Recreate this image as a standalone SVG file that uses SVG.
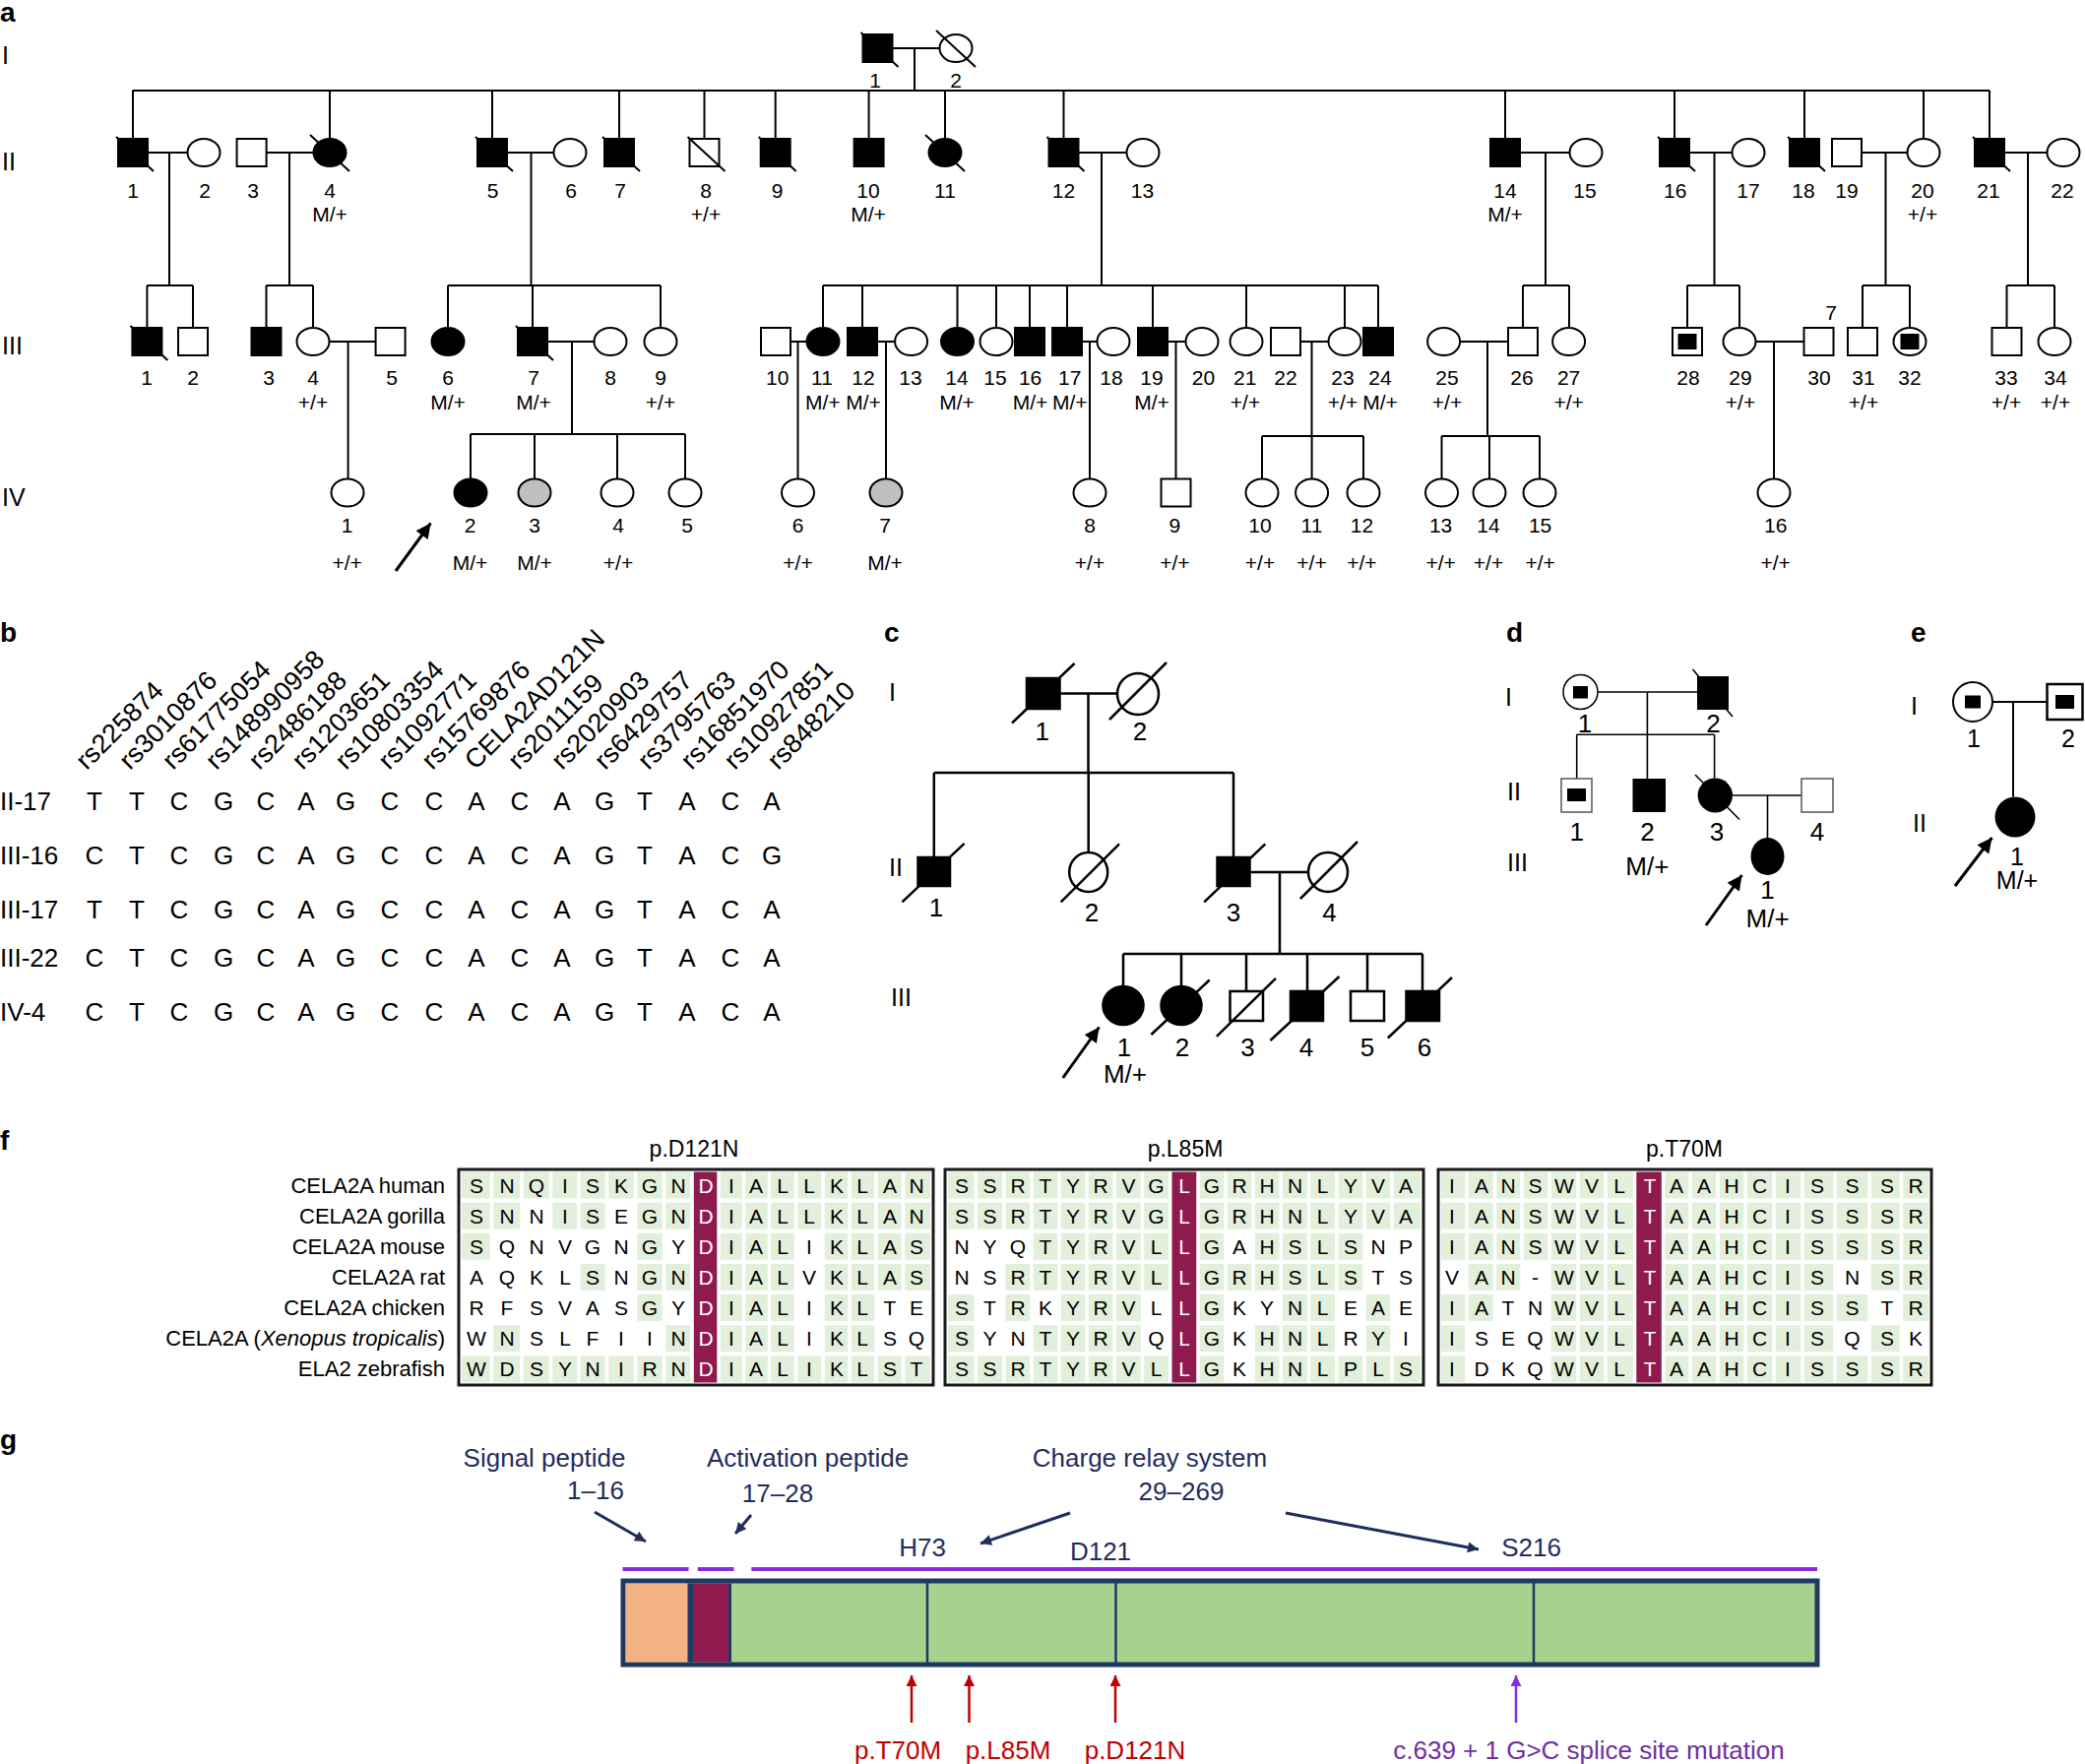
<svg xmlns="http://www.w3.org/2000/svg" xmlns:xlink="http://www.w3.org/1999/xlink" width="2118" height="1792" viewBox="0 0 2118 1792">
<style>
text{font-family:"Liberation Sans",Arial,Helvetica,sans-serif;fill:#000}
.pl{font-weight:bold;font-size:28px}
.gl{font-size:25px}
.n{font-size:21px;text-anchor:middle}
.nc{font-size:26px;text-anchor:middle}
.ne{font-size:25px;text-anchor:middle}
.b{font-size:26px}
.bc{font-size:26px;text-anchor:middle}
.hd{font-size:27px}
.sp{font-size:22px;text-anchor:end}
.aa{font-size:21px;text-anchor:middle}
.tt{font-size:23px;text-anchor:middle}
.gt{font-size:26px;text-anchor:middle;fill:#1f2d5c}
.rt{font-size:26px;text-anchor:middle;fill:#c00000}
.pt{font-size:26px;text-anchor:middle;fill:#7030a0}
.ln{fill:none;stroke:#000;stroke-width:2}
.lc{fill:none;stroke:#000;stroke-width:2.5}
.ld{fill:none;stroke:#000;stroke-width:1.6}
.o{fill:#fff;stroke:#000;stroke-width:2}
.f{fill:#000;stroke:#000;stroke-width:2}
.gy{fill:#bfbfbf;stroke:#000;stroke-width:2}
.oc{fill:#fff;stroke:#000;stroke-width:2.5}
.fc{fill:#000;stroke:#000;stroke-width:2.5}
.gc{fill:#e2efda}
.mr{fill:#8e1a4e}
.bx{fill:none;stroke:#1a1a1a;stroke-width:3}
.ar{fill:none;stroke:#000;stroke-width:3}
</style>
<defs>
<rect id="sq" x="-15" y="-14" width="30" height="28"/>
<ellipse id="ci" rx="16.5" ry="14"/>
<path id="sl" d="M-17-16L21 19"/>
<path id="slc" d="M-20-18L20 19"/>
<rect id="in" x="-8.5" y="-7" width="17" height="14"/>
<marker id="ak" viewBox="0 0 10 10" refX="10" refY="5" markerWidth="18" markerHeight="15" markerUnits="userSpaceOnUse" orient="auto"><path d="M0 0L10 5L0 10z" fill="#000"/></marker>
<marker id="an" viewBox="0 0 10 10" refX="10" refY="5" markerWidth="13" markerHeight="11" markerUnits="userSpaceOnUse" orient="auto"><path d="M0 0L10 5L0 10z" fill="#1f2d5c"/></marker>
<marker id="ar" viewBox="0 0 10 10" refX="10" refY="5" markerWidth="15" markerHeight="11" markerUnits="userSpaceOnUse" orient="auto"><path d="M0 0L10 5L0 10z" fill="#c00000"/></marker>
<marker id="ap" viewBox="0 0 10 10" refX="10" refY="5" markerWidth="15" markerHeight="11" markerUnits="userSpaceOnUse" orient="auto"><path d="M0 0L10 5L0 10z" fill="#8a2be2"/></marker>
</defs>
<rect width="2118" height="1792" fill="#fff"/>

<!-- panel letters -->
<g id="panel-letters">
<text class="pl" x="0" y="22">a</text>
<text class="pl" x="0" y="652">b</text>
<text class="pl" x="898" y="652">c</text>
<text class="pl" x="1530" y="652">d</text>
<text class="pl" x="1941" y="652">e</text>
<text class="pl" x="0" y="1168">f</text>
<text class="pl" x="0" y="1472">g</text>
</g>

<!-- ============ PANEL A ============ -->
<g id="a-generations">
<text class="gl" x="2" y="65">I</text>
<text class="gl" x="2" y="173">II</text>
<text class="gl" x="2" y="360">III</text>
<text class="gl" x="2" y="514">IV</text>
</g>

<g id="connectors">
<path class="ln" d="M906 49H954.5M929 49V92M134.5 92H2021
M135 92V141M335 92V141M500 92V141M629 92V141M715.5 92V141M787.7 92V141M882.6 92V141M960 92V141M1080.5 92V141M1529 92V141M1701 92V141M1833 92V141M1954 92V141M2021 92V141
M150 155H190.5M172 155V290M149.4 290H196M149.4 290V333M196 290V333
M270.6 155H318.5M294 155V290M270.5 290H318M270.5 290V333M318 290V333
M515 155H562.5M539.5 155V290M455 290H671M455 290V333M541 290V333M671 290V333
M1095.5 155H1144.5M1119 155V290M836 290H1400M836 290V333M876 290V333M972.5 290V333M1012 290V333M1046 290V333M1084 290V333M1171 290V333M1266 290V333M1366 290V333M1400 290V333
M1544 155H1594.5M1570 155V290M1547 290H1594M1547 290V333M1594 290V333
M1716 155H1759.5M1741.5 155V290M1714 290H1767M1714 290V333M1767 290V333
M1891 155H1937.5M1915.5 155V290M1892 290H1940M1892 290V333M1940 290V333
M2036 155H2079.5M2060 155V290M2038.5 290H2087M2038.5 290V333M2087 290V333
M334.5 347H381.6M353.6 347V486.5
M556 347H603.5M581 347V441M478 441H696M478 441V486.5M543 441V486.5M627 441V486.5M696 441V486.5
M803 347H819.5M810.5 347V486.5
M891 347H909M900 347V486.5
M1099 347H1114.5M1107 347V486.5
M1186 347H1204.5M1194.5 347V486.5
M1321 347H1349.5M1332.5 347V443M1282 443H1385M1282 443V486.5M1332.6 443V486.5M1385 443V486.5
M1483 347H1532M1511 347V443M1464.5 443H1564M1464.5 443V486.5M1513 443V486.5M1564 443V486.5
M1783.5 347H1832.5M1802 347V486.5"/>
<path class="lc" d="M1076.5 704.5H1135M1105.5 704.5V785M948.8 785H1253M948.8 785V871M1105.7 785V866M1253 785V871
M1269.5 886H1329M1300 886V969M1141 969H1445M1141 969V1002M1200 969V1002M1266 969V1007M1328 969V1007M1389 969V1007M1445 969V1007"/>
<path class="ld" d="M1623 703H1724M1673.4 703V791M1601.7 746.3H1741.6M1601.7 746.3V791M1741.6 746.3V790.5M1760 808H1830M1795.5 808V851"/>
<path class="ln" d="M2024 713H2079.5M2045 713V809.5"/>
<path class="ar" d="M402 580L437.5 531.5" marker-end="url(#ak)"/>
<path class="ar" d="M1079.7 1095L1116.5 1043.5" marker-end="url(#ak)"/>
<path class="ar" d="M1733 940L1769.5 889" marker-end="url(#ak)"/>
<path class="ar" d="M1986 900L2023.5 851" marker-end="url(#ak)"/>
<path fill="none" stroke="#1f2d5c" stroke-width="3" marker-end="url(#an)" d="M604 1536L656 1566"/>
<path fill="none" stroke="#1f2d5c" stroke-width="3" marker-end="url(#an)" d="M763 1539L747 1558"/>
<path fill="none" stroke="#1f2d5c" stroke-width="3" marker-end="url(#an)" d="M1087 1537L996 1568"/>
<path fill="none" stroke="#1f2d5c" stroke-width="3" marker-end="url(#an)" d="M1306 1537L1502 1574"/>
<path fill="none" stroke="#c00000" stroke-width="2.5" marker-end="url(#ar)" d="M926 1750V1702"/>
<path fill="none" stroke="#c00000" stroke-width="2.5" marker-end="url(#ar)" d="M984.5 1750V1702"/>
<path fill="none" stroke="#c00000" stroke-width="2.5" marker-end="url(#ar)" d="M1133 1750V1702"/>
<path fill="none" stroke="#8a2be2" stroke-width="2.5" marker-end="url(#ap)" d="M1540 1750V1702"/>
</g>

<!-- Gen I -->
<g id="a-I-1"><use href="#sq" x="891.5" y="49" class="f"/><use href="#sl" x="891.5" y="49" class="ln"/><text class="n" x="889" y="89">1</text></g>
<g id="a-I-2"><use href="#ci" x="971" y="49" class="o"/><use href="#slc" x="971" y="49" class="ln"/><text class="n" x="971" y="89">2</text></g>

<!-- Gen II -->
<g id="a-II-1"><use href="#sq" x="135" y="155" class="f"/><use href="#sl" x="135" y="155" class="ln"/><text class="n" x="135" y="201">1</text></g>
<g id="a-II-2"><use href="#ci" x="207" y="155" class="o"/><text class="n" x="208" y="201">2</text></g>
<g id="a-II-3"><use href="#sq" x="255.6" y="155" class="o"/><text class="n" x="257" y="201">3</text></g>
<g id="a-II-4"><use href="#ci" x="335" y="155" class="f"/><use href="#slc" x="335" y="155" class="ln"/><text class="n" x="335" y="201">4</text><text class="n" x="335" y="225">M/+</text></g>
<g id="a-II-5"><use href="#sq" x="500" y="155" class="f"/><use href="#sl" x="500" y="155" class="ln"/><text class="n" x="500.5" y="201">5</text></g>
<g id="a-II-6"><use href="#ci" x="579" y="155" class="o"/><text class="n" x="580" y="201">6</text></g>
<g id="a-II-7"><use href="#sq" x="629" y="155" class="f"/><use href="#sl" x="629" y="155" class="ln"/><text class="n" x="630" y="201">7</text></g>
<g id="a-II-8"><use href="#sq" x="715.5" y="155" class="o"/><use href="#sl" x="715.5" y="155" class="ln"/><text class="n" x="717" y="201">8</text><text class="n" x="717" y="225">+/+</text></g>
<g id="a-II-9"><use href="#sq" x="787.7" y="155" class="f"/><use href="#sl" x="787.7" y="155" class="ln"/><text class="n" x="789.7" y="201">9</text></g>
<g id="a-II-10"><use href="#sq" x="882.6" y="155" class="f"/><text class="n" x="882" y="201">10</text><text class="n" x="882" y="225">M/+</text></g>
<g id="a-II-11"><use href="#ci" x="960" y="155" class="f"/><use href="#slc" x="960" y="155" class="ln"/><text class="n" x="960" y="201">11</text></g>
<g id="a-II-12"><use href="#sq" x="1080.5" y="155" class="f"/><use href="#sl" x="1080.5" y="155" class="ln"/><text class="n" x="1080.5" y="201">12</text></g>
<g id="a-II-13"><use href="#ci" x="1161" y="155" class="o"/><text class="n" x="1160.5" y="201">13</text></g>
<g id="a-II-14"><use href="#sq" x="1529" y="155" class="f"/><text class="n" x="1529" y="201">14</text><text class="n" x="1529" y="225">M/+</text></g>
<g id="a-II-15"><use href="#ci" x="1611" y="155" class="o"/><text class="n" x="1610" y="201">15</text></g>
<g id="a-II-16"><use href="#sq" x="1701" y="155" class="f"/><use href="#sl" x="1701" y="155" class="ln"/><text class="n" x="1701.8" y="201">16</text></g>
<g id="a-II-17"><use href="#ci" x="1776" y="155" class="o"/><text class="n" x="1776" y="201">17</text></g>
<g id="a-II-18"><use href="#sq" x="1833" y="155" class="f"/><use href="#sl" x="1833" y="155" class="ln"/><text class="n" x="1832" y="201">18</text></g>
<g id="a-II-19"><use href="#sq" x="1876" y="155" class="o"/><text class="n" x="1876" y="201">19</text></g>
<g id="a-II-20"><use href="#ci" x="1954" y="155" class="o"/><text class="n" x="1953" y="201">20</text><text class="n" x="1953" y="225">+/+</text></g>
<g id="a-II-21"><use href="#sq" x="2021" y="155" class="f"/><use href="#sl" x="2021" y="155" class="ln"/><text class="n" x="2020" y="201">21</text></g>
<g id="a-II-22"><use href="#ci" x="2096" y="155" class="o"/><text class="n" x="2095" y="201">22</text></g>

<!-- Gen III -->
<g id="a-III-1"><use href="#sq" x="149.4" y="347" class="f"/><use href="#sl" x="149.4" y="347" class="ln"/><text class="n" x="149" y="391">1</text></g>
<g id="a-III-2"><use href="#sq" x="196" y="347" class="o"/><text class="n" x="196" y="391">2</text></g>
<g id="a-III-3"><use href="#sq" x="270.5" y="347" class="f"/><text class="n" x="273" y="391">3</text></g>
<g id="a-III-4"><use href="#ci" x="318" y="347" class="o"/><text class="n" x="318" y="391">4</text><text class="n" x="318" y="416">+/+</text></g>
<g id="a-III-5"><use href="#sq" x="396.6" y="347" class="o"/><text class="n" x="398" y="391">5</text></g>
<g id="a-III-6"><use href="#ci" x="455" y="347" class="f"/><text class="n" x="455" y="391">6</text><text class="n" x="455" y="416">M/+</text></g>
<g id="a-III-7"><use href="#sq" x="541" y="347" class="f"/><use href="#sl" x="541" y="347" class="ln"/><text class="n" x="542" y="391">7</text><text class="n" x="542" y="416">M/+</text></g>
<g id="a-III-8"><use href="#ci" x="620" y="347" class="o"/><text class="n" x="620" y="391">8</text></g>
<g id="a-III-9"><use href="#ci" x="671" y="347" class="o"/><text class="n" x="671" y="391">9</text><text class="n" x="671" y="416">+/+</text></g>
<g id="a-III-10"><use href="#sq" x="788" y="347" class="o"/><text class="n" x="789.7" y="391">10</text></g>
<g id="a-III-11"><use href="#ci" x="836" y="347" class="f"/><text class="n" x="835" y="391">11</text><text class="n" x="835.7" y="416">M/+</text></g>
<g id="a-III-12"><use href="#sq" x="876" y="347" class="f"/><text class="n" x="877" y="391">12</text><text class="n" x="877" y="416">M/+</text></g>
<g id="a-III-13"><use href="#ci" x="925.6" y="347" class="o"/><text class="n" x="925" y="391">13</text></g>
<g id="a-III-14"><use href="#ci" x="972.5" y="347" class="f"/><text class="n" x="972" y="391">14</text><text class="n" x="972" y="416">M/+</text></g>
<g id="a-III-15"><use href="#ci" x="1012" y="347" class="o"/><text class="n" x="1011" y="391">15</text></g>
<g id="a-III-16"><use href="#sq" x="1046" y="347" class="f"/><text class="n" x="1046.6" y="391">16</text><text class="n" x="1046.6" y="416">M/+</text></g>
<g id="a-III-17"><use href="#sq" x="1084" y="347" class="f"/><text class="n" x="1086.8" y="391">17</text><text class="n" x="1086.8" y="416">M/+</text></g>
<g id="a-III-18"><use href="#ci" x="1131" y="347" class="o"/><text class="n" x="1129" y="391">18</text></g>
<g id="a-III-19"><use href="#sq" x="1171" y="347" class="f"/><text class="n" x="1170" y="391">19</text><text class="n" x="1170" y="416">M/+</text></g>
<g id="a-III-20"><use href="#ci" x="1221" y="347" class="o"/><text class="n" x="1222.5" y="391">20</text></g>
<g id="a-III-21"><use href="#ci" x="1266" y="347" class="o"/><text class="n" x="1264.7" y="391">21</text><text class="n" x="1265" y="416">+/+</text></g>
<g id="a-III-22"><use href="#sq" x="1306" y="347" class="o"/><text class="n" x="1306" y="391">22</text></g>
<g id="a-III-23"><use href="#ci" x="1366" y="347" class="o"/><text class="n" x="1364" y="391">23</text><text class="n" x="1364" y="416">+/+</text></g>
<g id="a-III-24"><use href="#sq" x="1400" y="347" class="f"/><text class="n" x="1402" y="391">24</text><text class="n" x="1402" y="416">M/+</text></g>
<g id="a-III-25"><use href="#ci" x="1466.6" y="347" class="o"/><text class="n" x="1470" y="391">25</text><text class="n" x="1470" y="416">+/+</text></g>
<g id="a-III-26"><use href="#sq" x="1547" y="347" class="o"/><text class="n" x="1546" y="391">26</text></g>
<g id="a-III-27"><use href="#ci" x="1593.6" y="347" class="o"/><text class="n" x="1593.6" y="391">27</text><text class="n" x="1593.6" y="416">+/+</text></g>
<g id="a-III-28"><use href="#sq" x="1714" y="347" class="o"/><use href="#in" x="1714" y="347" class="f"/><text class="n" x="1715" y="391">28</text></g>
<g id="a-III-29"><use href="#ci" x="1767" y="347" class="o"/><text class="n" x="1768" y="391">29</text><text class="n" x="1768" y="416">+/+</text></g>
<g id="a-III-30"><use href="#sq" x="1847.5" y="347" class="o"/><text class="n" x="1860" y="325">7</text><text class="n" x="1848" y="391">30</text></g>
<g id="a-III-31"><use href="#sq" x="1892" y="347" class="o"/><text class="n" x="1893" y="391">31</text><text class="n" x="1893" y="416">+/+</text></g>
<g id="a-III-32"><use href="#ci" x="1940" y="347" class="o"/><use href="#in" x="1940" y="347" class="f"/><text class="n" x="1940" y="391">32</text></g>
<g id="a-III-33"><use href="#sq" x="2038.5" y="347" class="o"/><text class="n" x="2038" y="391">33</text><text class="n" x="2038" y="416">+/+</text></g>
<g id="a-III-34"><use href="#ci" x="2087" y="347" class="o"/><text class="n" x="2088" y="391">34</text><text class="n" x="2088" y="416">+/+</text></g>

<!-- Gen IV -->
<g id="a-IV-1"><use href="#ci" x="353" y="500.5" class="o"/><text class="n" x="352.7" y="541">1</text><text class="n" x="352.7" y="579">+/+</text></g>
<g id="a-IV-2"><use href="#ci" x="478" y="500.5" class="f"/><text class="n" x="477.6" y="541">2</text><text class="n" x="477.6" y="579">M/+</text></g>
<g id="a-IV-3"><use href="#ci" x="543" y="500.5" class="gy"/><text class="n" x="543" y="541">3</text><text class="n" x="543" y="579">M/+</text></g>
<g id="a-IV-4"><use href="#ci" x="627" y="500.5" class="o"/><text class="n" x="628" y="541">4</text><text class="n" x="628" y="579">+/+</text></g>
<g id="a-IV-5"><use href="#ci" x="696" y="500.5" class="o"/><text class="n" x="698" y="541">5</text></g>
<g id="a-IV-6"><use href="#ci" x="810.5" y="500.5" class="o"/><text class="n" x="810.5" y="541">6</text><text class="n" x="810.5" y="579">+/+</text></g>
<g id="a-IV-7"><use href="#ci" x="900" y="500.5" class="gy"/><text class="n" x="899" y="541">7</text><text class="n" x="899" y="579">M/+</text></g>
<g id="a-IV-8"><use href="#ci" x="1107" y="500.5" class="o"/><text class="n" x="1107" y="541">8</text><text class="n" x="1107" y="579">+/+</text></g>
<g id="a-IV-9"><use href="#sq" x="1194.5" y="500.5" class="o"/><text class="n" x="1193.4" y="541">9</text><text class="n" x="1193.4" y="579">+/+</text></g>
<g id="a-IV-10"><use href="#ci" x="1282" y="500.5" class="o"/><text class="n" x="1280" y="541">10</text><text class="n" x="1280" y="579">+/+</text></g>
<g id="a-IV-11"><use href="#ci" x="1332.6" y="500.5" class="o"/><text class="n" x="1332.5" y="541">11</text><text class="n" x="1332.5" y="579">+/+</text></g>
<g id="a-IV-12"><use href="#ci" x="1385" y="500.5" class="o"/><text class="n" x="1383.4" y="541">12</text><text class="n" x="1383.4" y="579">+/+</text></g>
<g id="a-IV-13"><use href="#ci" x="1464.5" y="500.5" class="o"/><text class="n" x="1463.6" y="541">13</text><text class="n" x="1463.6" y="579">+/+</text></g>
<g id="a-IV-14"><use href="#ci" x="1513" y="500.5" class="o"/><text class="n" x="1512" y="541">14</text><text class="n" x="1512" y="579">+/+</text></g>
<g id="a-IV-15"><use href="#ci" x="1564" y="500.5" class="o"/><text class="n" x="1564.6" y="541">15</text><text class="n" x="1564.6" y="579">+/+</text></g>
<g id="a-IV-16"><use href="#ci" x="1802" y="500.5" class="o"/><text class="n" x="1803.7" y="541">16</text><text class="n" x="1803.7" y="579">+/+</text></g>

<!-- ============ PANEL B ============ -->
<g id="b-headers">
<text class="hd" transform="translate(88 783) rotate(-45)">rs225874</text>
<text class="hd" transform="translate(131.9 783) rotate(-45)">rs3010876</text>
<text class="hd" transform="translate(175.8 783) rotate(-45)">rs61775054</text>
<text class="hd" transform="translate(219.7 783) rotate(-45)">rs148990958</text>
<text class="hd" transform="translate(263.6 783) rotate(-45)">rs2486188</text>
<text class="hd" transform="translate(307.5 783) rotate(-45)">rs1203651</text>
<text class="hd" transform="translate(351.4 783) rotate(-45)">rs10803354</text>
<text class="hd" transform="translate(395.3 783) rotate(-45)">rs1092771</text>
<text class="hd" transform="translate(439.2 783) rotate(-45)">rs15769876</text>
<text class="hd" transform="translate(483.1 783) rotate(-45)">CELA2AD121N</text>
<text class="hd" transform="translate(527 783) rotate(-45)">rs2011159</text>
<text class="hd" transform="translate(570.9 783) rotate(-45)">rs2020903</text>
<text class="hd" transform="translate(614.8 783) rotate(-45)">rs6429757</text>
<text class="hd" transform="translate(658.7 783) rotate(-45)">rs3795763</text>
<text class="hd" transform="translate(702.6 783) rotate(-45)">rs16851970</text>
<text class="hd" transform="translate(746.5 783) rotate(-45)">rs10927851</text>
<text class="hd" transform="translate(790.4 783) rotate(-45)">rs848210</text>
</g>
<g id="b-rows">
<text class="b" x="0" y="823">II-17</text>
<text class="b" x="0" y="878">III-16</text>
<text class="b" x="0" y="933">III-17</text>
<text class="b" x="0" y="982">III-22</text>
<text class="b" x="0" y="1037">IV-4</text>
<text class="bc" y="823" x="96 117.5 139 160.5 182 204.5 227 248.5 270 290.5 311 331 351 373.5 396 418.5 441 462.5 484 506 528 549.5 571 592.5 614 634.5 655 676.5 698 720 742 763 784">T T C G C A G C C A C A G T A C A</text>
<text class="bc" y="878" x="96 117.5 139 160.5 182 204.5 227 248.5 270 290.5 311 331 351 373.5 396 418.5 441 462.5 484 506 528 549.5 571 592.5 614 634.5 655 676.5 698 720 742 763 784">C T C G C A G C C A C A G T A C G</text>
<text class="bc" y="933" x="96 117.5 139 160.5 182 204.5 227 248.5 270 290.5 311 331 351 373.5 396 418.5 441 462.5 484 506 528 549.5 571 592.5 614 634.5 655 676.5 698 720 742 763 784">T T C G C A G C C A C A G T A C A</text>
<text class="bc" y="982" x="96 117.5 139 160.5 182 204.5 227 248.5 270 290.5 311 331 351 373.5 396 418.5 441 462.5 484 506 528 549.5 571 592.5 614 634.5 655 676.5 698 720 742 763 784">C T C G C A G C C A C A G T A C A</text>
<text class="bc" y="1037" x="96 117.5 139 160.5 182 204.5 227 248.5 270 290.5 311 331 351 373.5 396 418.5 441 462.5 484 506 528 549.5 571 592.5 614 634.5 655 676.5 698 720 742 763 784">C T C G C A G C C A C A G T A C A</text>
</g>

<!-- ============ PANEL C ============ -->
<g id="c-generations">
<text class="gl" x="903" y="712">I</text>
<text class="gl" x="903" y="890">II</text>
<text class="gl" x="905" y="1022">III</text>
</g>
<g id="c-I-1"><rect x="1043" y="689" width="33.5" height="31" class="fc"/><path class="lc" d="M1028 734.5L1091.5 674"/><text class="nc" x="1058.7" y="752">1</text></g>
<g id="c-I-2"><circle cx="1156" cy="705" r="21" class="oc"/><path class="lc" d="M1127 731L1185 673"/><text class="nc" x="1158" y="752">2</text></g>
<g id="c-II-1"><rect x="932.5" y="871" width="32.5" height="29" class="fc"/><path class="lc" d="M916.4 916.4L979.6 856.8"/><text class="nc" x="951" y="931">1</text></g>
<g id="c-II-2"><ellipse cx="1105.7" cy="886" rx="19.5" ry="20" class="oc"/><path class="lc" d="M1077.7 916.4L1137 857.4"/><text class="nc" x="1109" y="936">2</text></g>
<g id="c-II-3"><rect x="1236.5" y="871" width="33" height="29" class="fc"/><path class="lc" d="M1223.2 916.4L1285.3 857.4"/><text class="nc" x="1253" y="936">3</text></g>
<g id="c-II-4"><circle cx="1349" cy="886" r="20" class="oc"/><path class="lc" d="M1320.9 913L1379 855"/><text class="nc" x="1350.5" y="936">4</text></g>
<g id="c-III-1"><ellipse cx="1141" cy="1021.5" rx="20.5" ry="19.5" class="fc"/><text class="nc" x="1142" y="1073">1</text><text class="nc" x="1143" y="1100">M/+</text></g>
<g id="c-III-2"><ellipse cx="1200" cy="1021.5" rx="20.5" ry="19.5" class="fc"/><path class="lc" d="M1169.4 1051L1228.7 995.5"/><text class="nc" x="1201" y="1073">2</text></g>
<g id="c-III-3"><rect x="1249.5" y="1007" width="33.5" height="30" class="oc"/><path class="lc" d="M1235.9 1052.8L1296 993.8"/><text class="nc" x="1267.5" y="1073">3</text></g>
<g id="c-III-4"><rect x="1311" y="1007" width="33" height="30" class="fc"/><path class="lc" d="M1290.4 1057L1360.4 992"/><text class="nc" x="1327" y="1073">4</text></g>
<g id="c-III-5"><rect x="1372" y="1007" width="34" height="30" class="oc"/><text class="nc" x="1389" y="1073">5</text></g>
<g id="c-III-6"><rect x="1428.5" y="1007" width="33.5" height="30" class="fc"/><path class="lc" d="M1409.8 1054.5L1475 993"/><text class="nc" x="1447" y="1073">6</text></g>

<!-- ============ PANEL D ============ -->
<g id="d-generations">
<text class="gl" x="1529" y="717">I</text>
<text class="gl" x="1531" y="813">II</text>
<text class="gl" x="1531" y="885">III</text>
</g>
<g id="d-I-1"><circle cx="1605.5" cy="703" r="17.5" fill="#fff" stroke="#000" stroke-width="1.5"/><rect x="1598" y="697" width="15" height="12.5"/><text class="nc" x="1610" y="744">1</text></g>
<g id="d-I-2"><rect x="1724" y="687" width="32" height="34"/><path class="ld" d="M1719.5 680L1760 728"/><text class="nc" x="1740.4" y="744">2</text></g>
<g id="d-II-1"><rect x="1586" y="791" width="31" height="34" fill="#fff" stroke="#555" stroke-width="1.5"/><rect x="1592" y="801" width="19" height="13"/><text class="nc" x="1601.7" y="854">1</text></g>
<g id="d-II-2"><rect x="1658.5" y="791" width="33.5" height="34"/><text class="nc" x="1673.4" y="854">2</text><text class="nc" x="1673.4" y="889">M/+</text></g>
<g id="d-II-3"><ellipse cx="1742.3" cy="808" rx="17.7" ry="17.5"/><path class="ld" d="M1722 787L1767 832.5"/><text class="nc" x="1744" y="854">3</text></g>
<g id="d-II-4"><rect x="1830" y="791" width="32" height="34" fill="#fff" stroke="#555" stroke-width="1.5"/><text class="nc" x="1846" y="854">4</text></g>
<g id="d-III-1"><ellipse cx="1795.5" cy="870" rx="17" ry="19"/><text class="nc" x="1795.6" y="913">1</text><text class="nc" x="1795.6" y="942">M/+</text></g>

<!-- ============ PANEL E ============ -->
<g id="e-generations">
<text class="gl" x="1941" y="726">I</text>
<text class="gl" x="1943" y="845">II</text>
</g>
<g id="e-I-1"><circle cx="2004" cy="713" r="20" fill="#fff" stroke="#000" stroke-width="2"/><rect x="1996" y="706.5" width="16" height="13"/><text class="ne" x="2005" y="759">1</text></g>
<g id="e-I-2"><rect x="2079.5" y="695" width="36" height="36" fill="#fff" stroke="#000" stroke-width="2.5"/><rect x="2088" y="706" width="19" height="14"/><text class="ne" x="2101" y="759">2</text></g>
<g id="e-II-1"><circle cx="2047" cy="830" r="20.5"/><text class="ne" x="2049" y="879">1</text><text class="ne" x="2049" y="903">M/+</text></g>

<!-- ============ PANEL F ============ -->
<g id="f-titles">
<text class="tt" x="705" y="1175">p.D121N</text>
<text class="tt" x="1204" y="1175">p.L85M</text>
<text class="tt" x="1711" y="1175">p.T70M</text>
</g>
<g id="f-species">
<text class="sp" x="452" y="1211.5">CELA2A human</text>
<text class="sp" x="452" y="1242.7">CELA2A gorilla</text>
<text class="sp" x="452" y="1273.8">CELA2A mouse</text>
<text class="sp" x="452" y="1305">CELA2A rat</text>
<text class="sp" x="452" y="1336.1">CELA2A chicken</text>
<text class="sp" x="452" y="1367.3">CELA2A (<tspan font-style="italic">Xenopus tropicalis</tspan>)</text>
<text class="sp" x="452" y="1398.4">ELA2 zebrafish</text>
</g>
<g id="f-cells">
<rect class="gc" x="469" y="1190.5" width="234" height="27"/><rect class="gc" x="730" y="1190.5" width="215" height="27"/>
<rect class="gc" x="469" y="1221.65" width="61" height="27"/><rect class="gc" x="559.5" y="1221.65" width="57" height="27"/><rect class="gc" x="645.5" y="1221.65" width="57.5" height="27"/><rect class="gc" x="730" y="1221.65" width="215" height="27"/>
<rect class="gc" x="469" y="1252.8" width="30.5" height="27"/><rect class="gc" x="645.5" y="1252.8" width="29" height="27"/><rect class="gc" x="730" y="1252.8" width="78.5" height="27"/><rect class="gc" x="836" y="1252.8" width="109" height="27"/>
<rect class="gc" x="588" y="1283.95" width="28.5" height="27"/><rect class="gc" x="645.5" y="1283.95" width="57.5" height="27"/><rect class="gc" x="730" y="1283.95" width="78.5" height="27"/><rect class="gc" x="836" y="1283.95" width="109" height="27"/>
<rect class="gc" x="645.5" y="1315.1" width="29" height="27"/><rect class="gc" x="730" y="1315.1" width="78.5" height="27"/><rect class="gc" x="836" y="1315.1" width="54" height="27"/>
<rect class="gc" x="499.5" y="1346.25" width="30.5" height="27"/><rect class="gc" x="674.5" y="1346.25" width="28.5" height="27"/><rect class="gc" x="730" y="1346.25" width="78.5" height="27"/><rect class="gc" x="836" y="1346.25" width="54" height="27"/>
<rect class="gc" x="469" y="1377.4" width="234" height="27"/><rect class="gc" x="730" y="1377.4" width="215" height="27"/>
<rect class="gc" x="963" y="1190.5" width="225.75" height="27"/><rect class="gc" x="1217" y="1190.5" width="226" height="27"/>
<rect class="gc" x="963" y="1221.65" width="225.75" height="27"/><rect class="gc" x="1217" y="1221.65" width="226" height="27"/>
<rect class="gc" x="1048" y="1252.8" width="140.75" height="27"/><rect class="gc" x="1217" y="1252.8" width="28" height="27"/><rect class="gc" x="1273" y="1252.8" width="113" height="27"/>
<rect class="gc" x="1019.75" y="1283.95" width="169" height="27"/><rect class="gc" x="1217" y="1283.95" width="169" height="27"/>
<rect class="gc" x="963" y="1315.1" width="28.25" height="27"/><rect class="gc" x="1019.75" y="1315.1" width="28.25" height="27"/><rect class="gc" x="1076" y="1315.1" width="84.5" height="27"/><rect class="gc" x="1217" y="1315.1" width="28" height="27"/><rect class="gc" x="1301.25" y="1315.1" width="56.5" height="27"/><rect class="gc" x="1386" y="1315.1" width="28" height="27"/>
<rect class="gc" x="963" y="1346.25" width="28.25" height="27"/><rect class="gc" x="1048" y="1346.25" width="112.5" height="27"/><rect class="gc" x="1217" y="1346.25" width="28" height="27"/><rect class="gc" x="1273" y="1346.25" width="84.75" height="27"/><rect class="gc" x="1386" y="1346.25" width="28" height="27"/>
<rect class="gc" x="963" y="1377.4" width="225.75" height="27"/><rect class="gc" x="1217" y="1377.4" width="28" height="27"/><rect class="gc" x="1273" y="1377.4" width="170" height="27"/>
<rect class="gc" x="1464" y="1190.5" width="196.5" height="27"/><rect class="gc" x="1689.5" y="1190.5" width="269.5" height="27"/>
<rect class="gc" x="1464" y="1221.65" width="196.5" height="27"/><rect class="gc" x="1689.5" y="1221.65" width="269.5" height="27"/>
<rect class="gc" x="1464" y="1252.8" width="196.5" height="27"/><rect class="gc" x="1689.5" y="1252.8" width="269.5" height="27"/>
<rect class="gc" x="1490" y="1283.95" width="56" height="27"/><rect class="gc" x="1574" y="1283.95" width="86.5" height="27"/><rect class="gc" x="1689.5" y="1283.95" width="174.5" height="27"/><rect class="gc" x="1899" y="1283.95" width="60" height="27"/>
<rect class="gc" x="1464" y="1315.1" width="54.5" height="27"/><rect class="gc" x="1574" y="1315.1" width="86.5" height="27"/><rect class="gc" x="1689.5" y="1315.1" width="209.5" height="27"/><rect class="gc" x="1931.5" y="1315.1" width="27.5" height="27"/>
<rect class="gc" x="1464" y="1346.25" width="26" height="27"/><rect class="gc" x="1574" y="1346.25" width="86.5" height="27"/><rect class="gc" x="1689.5" y="1346.25" width="174.5" height="27"/><rect class="gc" x="1899" y="1346.25" width="32.5" height="27"/>
<rect class="gc" x="1464" y="1377.4" width="26" height="27"/><rect class="gc" x="1574" y="1377.4" width="86.5" height="27"/><rect class="gc" x="1689.5" y="1377.4" width="269.5" height="27"/>
<path fill="none" stroke="#fff" stroke-width="3.5" d="M499.5 1189V1406M530 1189V1406M559.5 1189V1406M588 1189V1406M616.5 1189V1406M645.5 1189V1406M674.5 1189V1406M703 1189V1406M730 1189V1406M755.5 1189V1406M781.5 1189V1406M808.5 1189V1406M836 1189V1406M863 1189V1406M890 1189V1406M917.5 1189V1406
M991.25 1189V1406M1019.75 1189V1406M1048 1189V1406M1076 1189V1406M1104 1189V1406M1132.25 1189V1406M1160.5 1189V1406M1188.75 1189V1406M1217 1189V1406M1245 1189V1406M1273 1189V1406M1301.25 1189V1406M1329.5 1189V1406M1357.75 1189V1406M1386 1189V1406M1414 1189V1406
M1490 1189V1406M1518.5 1189V1406M1546 1189V1406M1574 1189V1406M1603 1189V1406M1631 1189V1406M1660.5 1189V1406M1689.5 1189V1406M1717 1189V1406M1745 1189V1406M1773 1189V1406M1802 1189V1406M1831 1189V1406M1864 1189V1406M1899 1189V1406M1931.5 1189V1406"/>
<rect class="mr" x="704.8" y="1190.5" width="23.5" height="214"/>
<rect class="mr" x="1190.5" y="1190.5" width="24.75" height="214"/>
<rect class="mr" x="1662.3" y="1190.5" width="25.5" height="214"/>
<rect class="bx" x="466" y="1188" width="482" height="219"/>
<rect class="bx" x="960" y="1188" width="486" height="219"/>
<rect class="bx" x="1461" y="1188" width="501" height="219"/>
</g>
<g id="f-box1-text">
<text class="aa" y="1211.5" x="484 499.5 515 530 545 559.5 574 588 602 616.5 631 645.5 660 674.5 689 703 717 730 743 755.5 768 781.5 795 808.5 822 836 850 863 876 890 904 917.5 931">S N Q I S K G N <tspan fill="#fff">D</tspan> I A L L K L A N</text>
<text class="aa" y="1242.7" x="484 499.5 515 530 545 559.5 574 588 602 616.5 631 645.5 660 674.5 689 703 717 730 743 755.5 768 781.5 795 808.5 822 836 850 863 876 890 904 917.5 931">S N N I S E G N <tspan fill="#fff">D</tspan> I A L L K L A N</text>
<text class="aa" y="1273.8" x="484 499.5 515 530 545 559.5 574 588 602 616.5 631 645.5 660 674.5 689 703 717 730 743 755.5 768 781.5 795 808.5 822 836 850 863 876 890 904 917.5 931">S Q N V G N G Y <tspan fill="#fff">D</tspan> I A L I K L A S</text>
<text class="aa" y="1305" x="484 499.5 515 530 545 559.5 574 588 602 616.5 631 645.5 660 674.5 689 703 717 730 743 755.5 768 781.5 795 808.5 822 836 850 863 876 890 904 917.5 931">A Q K L S N G N <tspan fill="#fff">D</tspan> I A L V K L A S</text>
<text class="aa" y="1336.1" x="484 499.5 515 530 545 559.5 574 588 602 616.5 631 645.5 660 674.5 689 703 717 730 743 755.5 768 781.5 795 808.5 822 836 850 863 876 890 904 917.5 931">R F S V A S G Y <tspan fill="#fff">D</tspan> I A L I K L T E</text>
<text class="aa" y="1367.3" x="484 499.5 515 530 545 559.5 574 588 602 616.5 631 645.5 660 674.5 689 703 717 730 743 755.5 768 781.5 795 808.5 822 836 850 863 876 890 904 917.5 931">W N S L F I I N <tspan fill="#fff">D</tspan> I A L I K L S Q</text>
<text class="aa" y="1398.4" x="484 499.5 515 530 545 559.5 574 588 602 616.5 631 645.5 660 674.5 689 703 717 730 743 755.5 768 781.5 795 808.5 822 836 850 863 876 890 904 917.5 931">W D S Y N I R N <tspan fill="#fff">D</tspan> I A L I K L S T</text>
</g>
<g id="f-box2-text">
<text class="aa" y="1211.5" x="977 991 1005.5 1020 1034 1048 1062 1076 1090 1104 1118 1132 1146.5 1160.5 1174.5 1189 1203 1217 1231 1245 1259 1273 1287 1301 1315.5 1329.5 1343.5 1358 1372 1386 1400 1414 1428">S S R T Y R V G <tspan fill="#fff">L</tspan> G R H N L Y V A</text>
<text class="aa" y="1242.7" x="977 991 1005.5 1020 1034 1048 1062 1076 1090 1104 1118 1132 1146.5 1160.5 1174.5 1189 1203 1217 1231 1245 1259 1273 1287 1301 1315.5 1329.5 1343.5 1358 1372 1386 1400 1414 1428">S S R T Y R V G <tspan fill="#fff">L</tspan> G R H N L Y V A</text>
<text class="aa" y="1273.8" x="977 991 1005.5 1020 1034 1048 1062 1076 1090 1104 1118 1132 1146.5 1160.5 1174.5 1189 1203 1217 1231 1245 1259 1273 1287 1301 1315.5 1329.5 1343.5 1358 1372 1386 1400 1414 1428">N Y Q T Y R V L <tspan fill="#fff">L</tspan> G A H S L S N P</text>
<text class="aa" y="1305" x="977 991 1005.5 1020 1034 1048 1062 1076 1090 1104 1118 1132 1146.5 1160.5 1174.5 1189 1203 1217 1231 1245 1259 1273 1287 1301 1315.5 1329.5 1343.5 1358 1372 1386 1400 1414 1428">N S R T Y R V L <tspan fill="#fff">L</tspan> G R H S L S T S</text>
<text class="aa" y="1336.1" x="977 991 1005.5 1020 1034 1048 1062 1076 1090 1104 1118 1132 1146.5 1160.5 1174.5 1189 1203 1217 1231 1245 1259 1273 1287 1301 1315.5 1329.5 1343.5 1358 1372 1386 1400 1414 1428">S T R K Y R V L <tspan fill="#fff">L</tspan> G K Y N L E A E</text>
<text class="aa" y="1367.3" x="977 991 1005.5 1020 1034 1048 1062 1076 1090 1104 1118 1132 1146.5 1160.5 1174.5 1189 1203 1217 1231 1245 1259 1273 1287 1301 1315.5 1329.5 1343.5 1358 1372 1386 1400 1414 1428">S Y N T Y R V Q <tspan fill="#fff">L</tspan> G K H N L R Y I</text>
<text class="aa" y="1398.4" x="977 991 1005.5 1020 1034 1048 1062 1076 1090 1104 1118 1132 1146.5 1160.5 1174.5 1189 1203 1217 1231 1245 1259 1273 1287 1301 1315.5 1329.5 1343.5 1358 1372 1386 1400 1414 1428">S S R T Y R V L <tspan fill="#fff">L</tspan> G K H N L P L S</text>
</g>
<g id="f-box3-text">
<text class="aa" y="1211.5" x="1475 1490 1505 1518.5 1532 1546 1559.5 1574 1589 1603 1617 1631 1645 1660.5 1676 1689.5 1703 1717 1731 1745 1759 1773 1787.5 1802 1816 1831 1846 1864 1881.5 1899 1917 1931.5 1946">I A N S W V L <tspan fill="#fff">T</tspan> A A H C I S S S R</text>
<text class="aa" y="1242.7" x="1475 1490 1505 1518.5 1532 1546 1559.5 1574 1589 1603 1617 1631 1645 1660.5 1676 1689.5 1703 1717 1731 1745 1759 1773 1787.5 1802 1816 1831 1846 1864 1881.5 1899 1917 1931.5 1946">I A N S W V L <tspan fill="#fff">T</tspan> A A H C I S S S R</text>
<text class="aa" y="1273.8" x="1475 1490 1505 1518.5 1532 1546 1559.5 1574 1589 1603 1617 1631 1645 1660.5 1676 1689.5 1703 1717 1731 1745 1759 1773 1787.5 1802 1816 1831 1846 1864 1881.5 1899 1917 1931.5 1946">I A N S W V L <tspan fill="#fff">T</tspan> A A H C I S S S R</text>
<text class="aa" y="1305" x="1475 1490 1505 1518.5 1532 1546 1559.5 1574 1589 1603 1617 1631 1645 1660.5 1676 1689.5 1703 1717 1731 1745 1759 1773 1787.5 1802 1816 1831 1846 1864 1881.5 1899 1917 1931.5 1946">V A N - W V L <tspan fill="#fff">T</tspan> A A H C I S N S R</text>
<text class="aa" y="1336.1" x="1475 1490 1505 1518.5 1532 1546 1559.5 1574 1589 1603 1617 1631 1645 1660.5 1676 1689.5 1703 1717 1731 1745 1759 1773 1787.5 1802 1816 1831 1846 1864 1881.5 1899 1917 1931.5 1946">I A T N W V L <tspan fill="#fff">T</tspan> A A H C I S S T R</text>
<text class="aa" y="1367.3" x="1475 1490 1505 1518.5 1532 1546 1559.5 1574 1589 1603 1617 1631 1645 1660.5 1676 1689.5 1703 1717 1731 1745 1759 1773 1787.5 1802 1816 1831 1846 1864 1881.5 1899 1917 1931.5 1946">I S E Q W V L <tspan fill="#fff">T</tspan> A A H C I S Q S K</text>
<text class="aa" y="1398.4" x="1475 1490 1505 1518.5 1532 1546 1559.5 1574 1589 1603 1617 1631 1645 1660.5 1676 1689.5 1703 1717 1731 1745 1759 1773 1787.5 1802 1816 1831 1846 1864 1881.5 1899 1917 1931.5 1946">I D K Q W V L <tspan fill="#fff">T</tspan> A A H C I S S S R</text>
</g>

<!-- ============ PANEL G ============ -->
<g id="g-labels">
<text class="gt" x="553" y="1490">Signal peptide</text>
<text class="gt" x="605" y="1523">1–16</text>
<text class="gt" x="820.5" y="1490">Activation peptide</text>
<text class="gt" x="790" y="1526">17–28</text>
<text class="gt" x="1168" y="1490">Charge relay system</text>
<text class="gt" x="1200" y="1524">29–269</text>
<text class="gt" x="937" y="1581">H73</text>
<text class="gt" x="1118" y="1585">D121</text>
<text class="gt" x="1555.5" y="1581">S216</text>
</g>
<g id="g-domains">
<path fill="none" stroke="#8a2be2" stroke-width="4" d="M632.5 1594H699.6M708.8 1594H745.5M763.3 1594H1846"/>
</g>
<g id="g-protein">
<rect x="633" y="1606" width="1213" height="85" fill="#a9d18e" stroke="#1f3864" stroke-width="5"/>
<rect x="635.5" y="1608.5" width="63" height="80" fill="#f4b183"/>
<rect x="698.5" y="1608.5" width="5.5" height="80" fill="#1f3864"/>
<rect x="704" y="1608.5" width="36" height="80" fill="#8e1a4e"/>
<rect x="740" y="1608.5" width="3" height="80" fill="#1f3864"/>
<path fill="none" stroke="#1f3864" stroke-width="2.5" d="M942 1608V1689M1133.5 1608V1689M1558 1608V1689"/>
</g>
<g id="g-mutations">
<text class="rt" x="912" y="1787">p.T70M</text>
<text class="rt" x="1024" y="1787">p.L85M</text>
<text class="rt" x="1153" y="1787">p.D121N</text>
<text class="pt" x="1614" y="1787">c.639 + 1 G&gt;C splice site mutation</text>
</g>
</svg>
